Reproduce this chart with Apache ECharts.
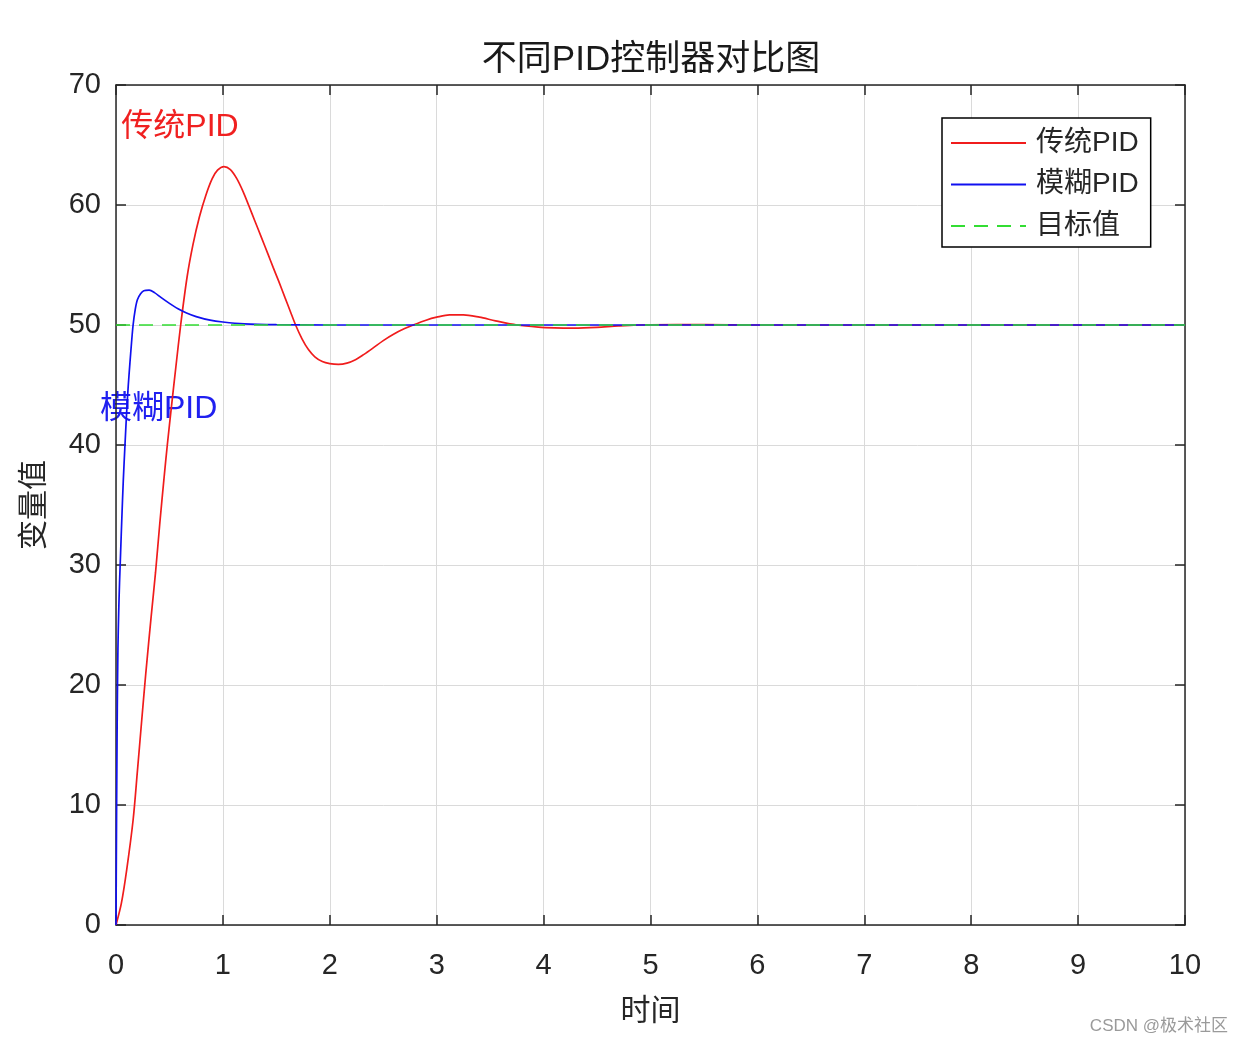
<!DOCTYPE html>
<html>
<head>
<meta charset="utf-8">
<script src="https://cdn.jsdelivr.net/npm/echarts@6/dist/echarts.min.js"></script>
<style>
html,body{margin:0;padding:0;background:#fff;}
#c{width:1244px;height:1046px;}
</style>
</head>
<body>
<div id="c"></div>
<script>
// ---- data ----
var seriesNames = ['传统PID', '模糊PID', '目标值'];
var tradT = [0, 0.05, 0.1, 0.16, 0.2, 0.24, 0.28, 0.33, 0.37, 0.41, 0.45, 0.48, 0.52, 0.56, 0.605, 0.665, 0.72, 0.78, 0.84, 0.9, 0.95, 1.01, 1.07, 1.13, 1.19, 1.24, 1.3, 1.36, 1.42, 1.47, 1.52, 1.58, 1.63, 1.68, 1.74, 1.8, 1.86, 1.93, 2.0, 2.08, 2.16, 2.24, 2.32, 2.4, 2.5, 2.6, 2.7, 2.78, 2.9, 3.0, 3.12, 3.25, 3.4, 3.55, 3.75, 3.95, 4.1, 4.28, 4.5, 4.7, 5.0, 5.5, 6, 7, 8, 9, 10];
var tradV = [0, 1.8, 4.6, 8.75, 12.8, 17, 21.1, 25.8, 29.4, 33.5, 37.3, 40, 43.3, 46.5, 50, 54.0, 56.7, 59, 60.8, 62.2, 62.9, 63.2, 62.95, 62.2, 61.1, 60.0, 58.65, 57.3, 55.95, 54.8, 53.7, 52.3, 51.15, 50.0, 48.85, 47.95, 47.35, 46.95, 46.78, 46.72, 46.82, 47.1, 47.55, 48.05, 48.7, 49.25, 49.7, 50.0, 50.4, 50.65, 50.85, 50.85, 50.65, 50.35, 50.0, 49.82, 49.76, 49.74, 49.8, 49.92, 50.02, 50.03, 50, 50, 50, 50, 50];
var fuzzyT = [0, 0.004, 0.008, 0.012, 0.018, 0.025, 0.033, 0.043, 0.055, 0.068, 0.084, 0.1, 0.115, 0.13, 0.145, 0.16, 0.18, 0.2, 0.23, 0.26, 0.31, 0.36, 0.42, 0.5, 0.58, 0.66, 0.75, 0.88, 1.0, 1.2, 1.5, 2, 3, 4, 5, 6, 7, 8, 9, 10];
var fuzzyV = [0, 7, 13, 18, 23, 26, 28.5, 31, 34, 37, 40, 42.8, 45, 46.8, 48.5, 50, 51.3, 52.1, 52.6, 52.85, 52.9, 52.7, 52.3, 51.8, 51.35, 51.0, 50.7, 50.4, 50.25, 50.1, 50.03, 50, 50, 50, 50, 50, 50, 50, 50, 50];
var targetT = [0, 10];
var targetV = [50, 50];
var xTicks = [0, 1, 2, 3, 4, 5, 6, 7, 8, 9, 10];
var yTicks = [0, 10, 20, 30, 40, 50, 60, 70];

function pairs(t, v) { return t.map(function (x, i) { return [x, v[i]]; }); }

var FONT = 'Liberation Sans, Arial, Noto Sans CJK SC, sans-serif';
var axisColor = '#262626';
var chart = echarts.init(document.getElementById('c'), null, {renderer: 'canvas'});

var baseX = {
  type: 'value', min: xTicks[0], max: xTicks[xTicks.length - 1], interval: 1,
  axisLine: {show: true, onZero: false, lineStyle: {color: axisColor, width: 1.5}},
  axisTick: {show: true, inside: true, length: 10, lineStyle: {color: axisColor, width: 1.5}}
};
var baseY = {
  type: 'value', min: yTicks[0], max: yTicks[yTicks.length - 1], interval: 10,
  axisLine: {show: true, onZero: false, lineStyle: {color: axisColor, width: 1.5}},
  axisTick: {show: true, inside: true, length: 10, lineStyle: {color: axisColor, width: 1.5}}
};

var option = {
  backgroundColor: '#fff',
  animation: false,
  title: {
    text: '不同PID控制器对比图', left: 646, top: 38, textAlign: 'center',
    textStyle: {fontFamily: FONT, fontSize: 35, fontWeight: 'normal', color: '#1a1a1a'}
  },
  grid: {left: 116, right: 59, top: 85, bottom: 121},
  legend: {
    data: seriesNames, orient: 'vertical', left: 942, top: 118,
    padding: [9, 12, 5, 8], itemWidth: 75, itemHeight: 14, itemGap: 9.5,
    borderColor: '#000', borderWidth: 1.5, backgroundColor: '#fff',
    itemStyle: {opacity: 0, borderWidth: 0},
    textStyle: {fontFamily: FONT, fontSize: 28, color: '#262626', lineHeight: 32, padding: [0, 0, 0, 5]}
  },
  xAxis: [
    Object.assign({}, baseX, {
      position: 'bottom', name: '时间', nameLocation: 'middle', nameGap: 72,
      nameTextStyle: {fontFamily: FONT, fontSize: 30, color: '#262626'},
      axisLabel: {fontFamily: FONT, fontSize: 29, color: '#262626', margin: 26},
      splitLine: {show: true, lineStyle: {color: '#dadada', width: 1}}
    }),
    Object.assign({}, baseX, {position: 'top', axisLabel: {show: false}, splitLine: {show: false}})
  ],
  yAxis: [
    Object.assign({}, baseY, {
      position: 'left', name: '变量值', nameLocation: 'middle', nameGap: 66, nameRotate: 90,
      nameTextStyle: {fontFamily: FONT, fontSize: 30, color: '#262626'},
      axisLabel: {fontFamily: FONT, fontSize: 29, color: '#262626', margin: 15},
      splitLine: {show: true, lineStyle: {color: '#dadada', width: 1}}
    }),
    Object.assign({}, baseY, {position: 'right', axisLabel: {show: false}, splitLine: {show: false}})
  ],
  series: [
    {
      name: seriesNames[0], type: 'line', data: pairs(tradT, tradV), showSymbol: false, symbol: 'none',
      smooth: 0.3,
      lineStyle: {color: '#f01c1c', width: 1.7}, itemStyle: {color: '#f01c1c'}
    },
    {
      name: seriesNames[1], type: 'line', data: pairs(fuzzyT, fuzzyV), showSymbol: false, symbol: 'none',
      smooth: 0.3,
      lineStyle: {color: '#1010f0', width: 1.7}, itemStyle: {color: '#1010f0'}
    },
    {
      name: seriesNames[2], type: 'line', data: pairs(targetT, targetV), showSymbol: false, symbol: 'none',
      lineStyle: {color: '#33dd33', width: 1.7, type: [14, 9]}, itemStyle: {color: '#33dd33'}
    }
  ]
};
chart.setOption(option);

var p1 = chart.convertToPixel({gridIndex: 0}, [0.05, 66.5]);
var p2 = chart.convertToPixel({gridIndex: 0}, [-0.15, 43.0]);
chart.setOption({
  graphic: [
    {type: 'text', x: p1[0], y: p1[1], style: {text: '传统PID', fill: '#f02020', font: '32px ' + FONT, textVerticalAlign: 'middle', textAlign: 'left'}},
    {type: 'text', x: p2[0], y: p2[1], style: {text: '模糊PID', fill: '#2020f0', font: '32px ' + FONT, textVerticalAlign: 'middle', textAlign: 'left'}},
    {type: 'text', right: 16, top: 1018, style: {text: 'CSDN @极术社区', fill: '#9a9a9a', font: '17px ' + FONT}}
  ]
});
</script>
</body>
</html>
